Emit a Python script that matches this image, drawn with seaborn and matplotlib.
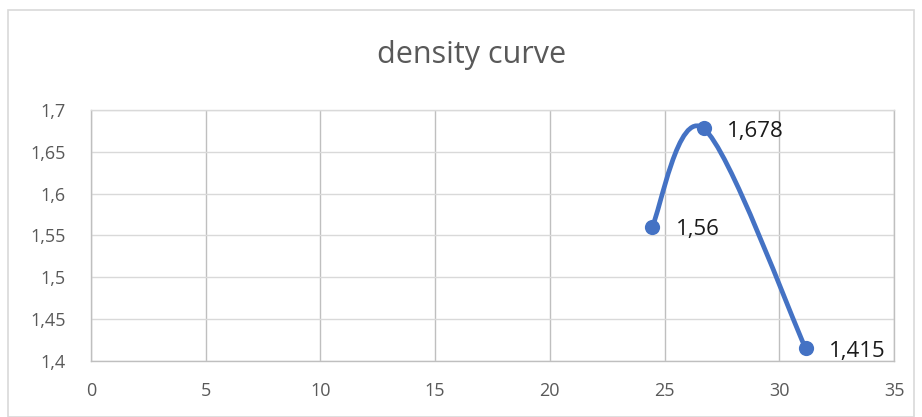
import matplotlib
matplotlib.use("Agg")
import matplotlib.pyplot as plt
import seaborn as sns
import pandas as pd
from matplotlib.path import Path
from matplotlib.patches import PathPatch, Rectangle
from matplotlib.ticker import FuncFormatter

# data
x_vals = [24.45, 26.7, 31.15]
y_vals = [1.56, 1.678, 1.415]
point_labels = ["1,56", "1,678", "1,415"]
title = "density curve"

df = pd.DataFrame({"x": x_vals, "y": y_vals})

sns.set_theme(style="white")
plt.rcParams["font.family"] = ["Open Sans", "DejaVu Sans"]

blue = "#4472C4"
grey_txt = "#595959"

fig = plt.figure(figsize=(9.22, 4.17), dpi=100)
ax = fig.add_axes([91 / 922, 1 - 361 / 417, (894 - 91) / 922, (361 - 110) / 417])

# chart-area border
fig.patches.append(Rectangle((8 / 922, 0), 1 - 16 / 922, 1 - 10 / 417,
                             transform=fig.transFigure, fill=False,
                             edgecolor="#d9d9d9", linewidth=1.2))

# smooth (Excel-like) curve through the points, Catmull-Rom style Bezier
pts = list(zip(df["x"], df["y"]))
verts = [pts[0]]
codes = [Path.MOVETO]
for i in range(len(pts) - 1):
    p0 = pts[i - 1] if i > 0 else pts[i]
    p1 = pts[i]
    p2 = pts[i + 1]
    p3 = pts[i + 2] if i + 2 < len(pts) else pts[i + 1]
    c1 = (p1[0] + (p2[0] - p0[0]) / 6, p1[1] + (p2[1] - p0[1]) / 6)
    c2 = (p2[0] - (p3[0] - p1[0]) / 6, p2[1] - (p3[1] - p1[1]) / 6)
    verts += [c1, c2, p2]
    codes += [Path.CURVE4] * 3
ax.add_patch(PathPatch(Path(verts, codes), facecolor="none", edgecolor=blue,
                       linewidth=3.4, capstyle="round", zorder=3))

sns.scatterplot(data=df, x="x", y="y", ax=ax, color=blue, s=120,
                edgecolor=blue, linewidth=0, zorder=4, clip_on=False)

for xv, yv, lab in zip(x_vals, y_vals, point_labels):
    ax.annotate(lab, (xv, yv), xytext=(17, -2), textcoords="offset points",
                ha="left", va="center", fontsize=16, color="#1a1a1a")

ax.set_xlim(0, 35)
ax.set_ylim(1.4, 1.7)
ax.set_xticks(range(0, 36, 5))
ax.set_yticks([1.4, 1.45, 1.5, 1.55, 1.6, 1.65, 1.7])
ax.yaxis.set_major_formatter(FuncFormatter(lambda v, p: f"{v:g}".replace(".", ",")))
ax.tick_params(axis="both", labelsize=13, colors=grey_txt, length=0)
ax.tick_params(axis="y", pad=18)
ax.tick_params(axis="x", pad=15)
ax.set_xlabel("")
ax.set_ylabel("")

ax.grid(True, axis="y", color="#d9d9d9", linewidth=1)
ax.grid(True, axis="x", color="#bfbfbf", linewidth=1)
ax.set_axisbelow(True)
for side, sp in ax.spines.items():
    sp.set_color("#bfbfbf" if side in ("left", "right", "bottom") else "#d9d9d9")
    sp.set_linewidth(1)

fig.text(472 / 922, 1 - 55 / 417, title, ha="center", va="center",
         fontsize=22, color=grey_txt)

fig.savefig("out.png", dpi=100)
